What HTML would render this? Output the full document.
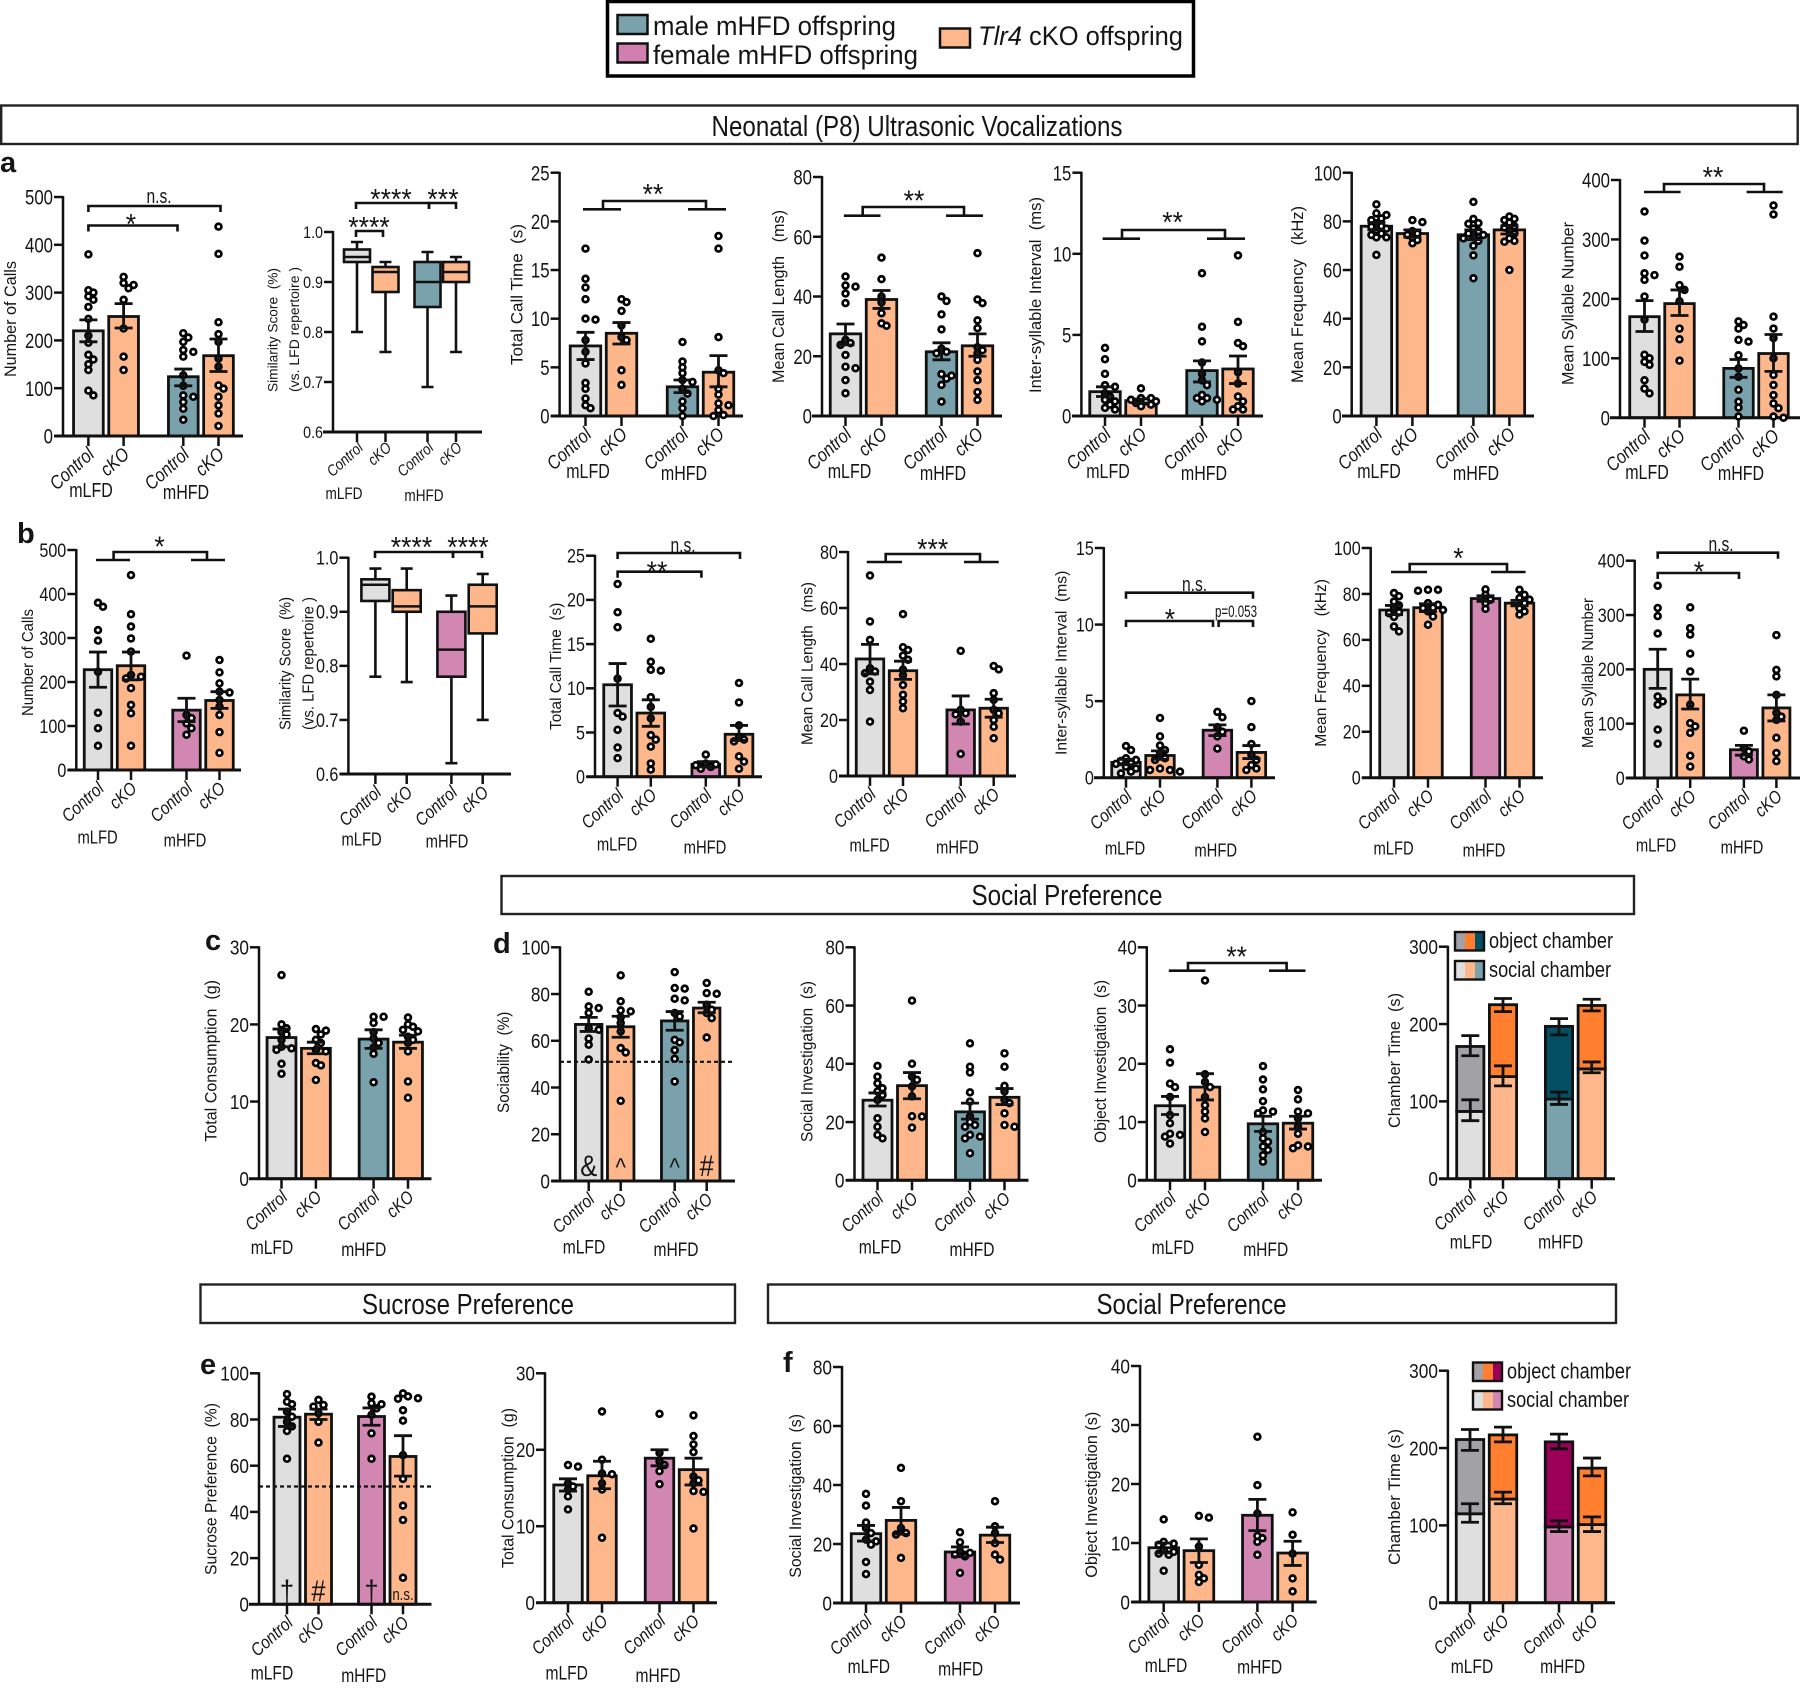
<!DOCTYPE html>
<html lang="en">
<head>
<meta charset="utf-8">
<title>Offspring behaviour panels</title>
<style>
html,body{margin:0;padding:0;background:#fff}
svg{display:block}
text{font-family:"Liberation Sans",sans-serif;fill:#151515;white-space:pre}
</style>
</head>
<body>
<svg xmlns="http://www.w3.org/2000/svg" width="1800" height="1688" viewBox="0 0 1800 1688">
  <rect x="0" y="0" width="1800" height="1688" fill="#fff"/>
  <g>
    <rect x="607.5" y="1.5" width="586" height="74.5" fill="#fff" stroke="#000" stroke-width="3.5"/>
    <rect x="617.5" y="15" width="30" height="19" fill="#7aa2ac" stroke="#111" stroke-width="2.5"/>
    <text x="653" y="35" font-size="27" textLength="243" lengthAdjust="spacingAndGlyphs">male mHFD offspring</text>
    <rect x="617.5" y="43.5" width="30" height="19" fill="#d17fae" stroke="#111" stroke-width="2.5"/>
    <text x="653" y="64" font-size="27" textLength="265" lengthAdjust="spacingAndGlyphs">female mHFD offspring</text>
    <rect x="940" y="28.5" width="30" height="19" fill="#fdb78a" stroke="#111" stroke-width="2.5"/>
    <text x="978" y="45" font-size="27" textLength="205" lengthAdjust="spacingAndGlyphs"><tspan font-style="italic">Tlr4</tspan> cKO offspring</text>
  </g>
  <g>
    <rect x="1.2" y="105.5" width="1796.5" height="38.5" fill="#fff" stroke="#222" stroke-width="2.4"/>
    <text x="917" y="136" font-size="29" text-anchor="middle" textLength="411" lengthAdjust="spacingAndGlyphs">Neonatal (P8) Ultrasonic Vocalizations</text>
  </g>
  <g>
    <rect x="501.5" y="876" width="1132.5" height="38" fill="#fff" stroke="#222" stroke-width="2.4"/>
    <text x="1067" y="905" font-size="29" text-anchor="middle" textLength="191" lengthAdjust="spacingAndGlyphs">Social Preference</text>
  </g>
  <g>
    <rect x="200.5" y="1284.5" width="534.5" height="38.5" fill="#fff" stroke="#222" stroke-width="2.4"/>
    <text x="468" y="1314" font-size="29" text-anchor="middle" textLength="212" lengthAdjust="spacingAndGlyphs">Sucrose Preference</text>
  </g>
  <g>
    <rect x="768" y="1284.5" width="848" height="38.5" fill="#fff" stroke="#222" stroke-width="2.4"/>
    <text x="1191.5" y="1314" font-size="29" text-anchor="middle" textLength="190" lengthAdjust="spacingAndGlyphs">Social Preference</text>
  </g>
  <g>
    <text x="0" y="172" font-size="29" font-weight="bold">a</text>
    <text x="17" y="543" font-size="29" font-weight="bold">b</text>
    <text x="205" y="950" font-size="29" font-weight="bold">c</text>
    <text x="493" y="953" font-size="29" font-weight="bold">d</text>
    <text x="200" y="1374" font-size="29" font-weight="bold">e</text>
    <text x="783" y="1372" font-size="29" font-weight="bold">f</text>
  </g>
  <g>
    <rect x="1455" y="932" width="10" height="18.5" fill="#a2a2a6"/>
    <rect x="1465" y="932" width="10" height="18.5" fill="#ff7f2f"/>
    <rect x="1475" y="932" width="9" height="18.5" fill="#044f63"/>
    <rect x="1455" y="932" width="29" height="18.5" fill="none" stroke="#111" stroke-width="2.4"/>
    <text x="1489" y="948" font-size="22" textLength="124" lengthAdjust="spacingAndGlyphs">object chamber</text>
    <rect x="1455" y="961" width="10" height="18.5" fill="#dfdfdf"/>
    <rect x="1465" y="961" width="10" height="18.5" fill="#fdb78a"/>
    <rect x="1475" y="961" width="9" height="18.5" fill="#7aa2ac"/>
    <rect x="1455" y="961" width="29" height="18.5" fill="none" stroke="#111" stroke-width="2.4"/>
    <text x="1489" y="977" font-size="22" textLength="122" lengthAdjust="spacingAndGlyphs">social chamber</text>
  </g>
  <g>
    <rect x="1473" y="1362.5" width="10" height="18.5" fill="#a2a2a6"/>
    <rect x="1483" y="1362.5" width="10" height="18.5" fill="#ff7f2f"/>
    <rect x="1493" y="1362.5" width="9" height="18.5" fill="#9a0057"/>
    <rect x="1473" y="1362.5" width="29" height="18.5" fill="none" stroke="#111" stroke-width="2.4"/>
    <text x="1507" y="1378.5" font-size="22" textLength="124" lengthAdjust="spacingAndGlyphs">object chamber</text>
    <rect x="1473" y="1391" width="10" height="18.5" fill="#dfdfdf"/>
    <rect x="1483" y="1391" width="10" height="18.5" fill="#fdb78a"/>
    <rect x="1493" y="1391" width="9" height="18.5" fill="#d287b3"/>
    <rect x="1473" y="1391" width="29" height="18.5" fill="none" stroke="#111" stroke-width="2.4"/>
    <text x="1507" y="1407" font-size="22" textLength="122" lengthAdjust="spacingAndGlyphs">social chamber</text>
  </g>
  <g id="charts"></g>
</svg>
<script>
/* ---------- shared categories ---------- */
const categories = ['Control','cKO','Control','cKO'];
const groups = ['mLFD','mHFD'];

/* ---------- panel a ---------- */
const a1Ticks = [0,100,200,300,400,500];
const a1Means = [220,250,124,168];
const a1ErrLow = [197,226,105,135];
const a1ErrHigh = [243,277,140,203];
const a1Points = [[380,305,300,292,285,270,245,210,195,170,160,150,138,95,85],[333,320,316,309,285,225,166,138],[215,206,197,180,176,166,127,105,85,82,71,57,34],[438,381,238,213,197,162,145,106,99,82,64,47,21]];

const a2Ticks = [0.6,0.7,0.8,0.9,1.0];
const a2WhiskerLow = [0.80,0.76,0.69,0.76];
const a2Q1 = [0.94,0.88,0.85,0.90];
const a2Median = [0.95,0.92,0.90,0.92];
const a2Q3 = [0.965,0.93,0.94,0.94];
const a2WhiskerHigh = [0.98,0.94,0.96,0.95];

const a3Ticks = [0,5,10,15,20,25];
const a3Means = [7.2,8.5,3.0,4.5];
const a3ErrLow = [5.8,7.4,2.4,3.0];
const a3ErrHigh = [8.6,9.6,3.7,6.2];
const a3Points = [[17.2,14.1,13.2,12,10,9.9,7.8,6.6,5.4,3.4,2.8,1.8,1.1,0.8],[12,11.7,10.8,9.3,8.1,7.8,4.7,3.2],[7.6,5.6,5,4.4,3.7,3.5,2.8,2.3,1.5,0.8,0],[18.5,17.2,8.1,4.7,4.4,2.8,2.2,1.3,1.1,0.6,0.1,0]];

const a4Ticks = [0,20,40,60,80];
const a4Means = [27.5,39,21.5,23.5];
const a4ErrLow = [23.8,36,18.8,20];
const a4ErrHigh = [30.8,42,24.5,27.5];
const a4Points = [[46.7,43.7,43.3,41,37.8,25.5,24.4,23.8,20.4,16.5,16,12,7.6],[53,45.8,40,38,34.4,31,30.2],[40,38.5,34,29,22.5,21.5,21,14,13.5,12.5,10.4,4.8],[54.5,39,37.8,32,29.4,23,22,21,18.8,14.9,12,8,5.4]];

const a5Ticks = [0,5,10,15];
const a5Means = [1.5,0.95,2.8,2.9];
const a5ErrLow = [1.2,0.8,2.1,2.0];
const a5ErrHigh = [1.8,1.05,3.4,3.7];
const a5Points = [[4.2,3.5,2.6,1.9,1.8,1.4,1.2,1,0.9,0.7,0.5,0.4],[1.7,1.1,1.1,1,0.9,0.9,0.8,0.7,0.6],[8.8,5.5,4.6,3.3,2.6,2.2,1.9,1.3,1.1,1.1,1,0.9],[9.9,5.8,4.5,4.3,2.7,2,1.2,0.9,0.6,0.4,0.4]];

const a6Ticks = [0,20,40,60,80,100];
const a6Means = [78,75,74.5,76.5];
const a6ErrLow = [76.5,73.5,72.5,74.8];
const a6ErrHigh = [79.5,76.5,76.5,78.2];
const a6Points = [[87,83.3,82.6,81.2,80.5,79.2,78,77.8,77,76.4,75,74.4,73.4,73.4,66.2],[80.5,79.7,76,75,74.4,73.4,72.3,71],[88,81,79.3,79,77,76,75,74.4,73.5,73,72,70,66,56.6],[82,81,80.5,79.5,78,77.5,76.4,75,73,72,71.6,60]];

const a7Ticks = [0,100,200,300,400];
const a7Means = [170,192,83,108];
const a7ErrLow = [145,172,68,78];
const a7ErrHigh = [197,215,98,140];
const a7Points = [[347,298,273,243,240,232,204,165,106,100,94,89,63,49,41],[271,254,223,215,196,150,132,96],[162,156,150,131,128,105,83,69,47,27,17,2],[357,342,170,150,134,100,72,55,38,24,16,2,0]];

/* ---------- panel b ---------- */
const b1Ticks = [0,100,200,300,400,500];
const b1Means = [228,237,136,158];
const b1ErrLow = [188,205,110,140];
const b1ErrHigh = [268,268,163,178];
const b1Points = [[380,371,318,294,223,130,95,55],[443,354,326,299,269,216,212,208,186,148,129,55],[260,125,118,106,95,80],[250,222,197,178,176,159,144,125,86,39]];

const b2Ticks = [0.6,0.7,0.8,0.9,1.0];
const b2WhiskerLow = [0.78,0.77,0.62,0.70];
const b2Q1 = [0.92,0.90,0.78,0.86];
const b2Median = [0.95,0.91,0.83,0.91];
const b2Q3 = [0.96,0.94,0.90,0.95];
const b2WhiskerHigh = [0.98,0.98,0.93,0.97];

const b3Ticks = [0,5,10,15,20,25];
const b3Means = [10.4,7.2,1.4,4.8];
const b3ErrLow = [8,5.7,1.1,4.1];
const b3ErrHigh = [12.8,8.7,1.7,5.8];
const b3Points = [[21.8,18.6,16.9,11.1,7.2,6.8,5.3,3.3,2.1],[15.6,13,12.1,12,9,7.9,6.6,4.7,4.2,3.4,1.5,0.8],[2.5,1.5,1.4,1.3,1.1,0.9],[10.6,8.4,5.8,4.5,4.2,4,2.3,1.7,0.9]];

const b4Ticks = [0,20,40,60,80];
const b4Means = [41.8,37.6,23.6,24.2];
const b4ErrLow = [36.5,34.5,18.6,21];
const b4ErrHigh = [47,41,28.6,27.4];
const b4Points = [[71.6,55.2,48.6,38.5,37.3,36.7,33.7,30.7,19.4],[57.8,46,45,43,41.5,38,36,32.5,29,26.6,24.2],[44.7,23.6,22.4,22,19.4,7.9],[39.3,38.1,29.6,27.2,23.6,22.4,20,17.6,13.5]];

const b5Ticks = [0,5,10,15];
const b5Means = [1,1.45,3.1,1.65];
const b5ErrLow = [0.85,1.2,2.75,1.25];
const b5ErrHigh = [1.2,1.75,3.45,2.1];
const b5Points = [[2.07,1.8,1.27,1.16,1.1,0.94,0.9,0.72,0.6,0.4,0.28],[3.9,2.7,2.1,1.8,1.6,1.27,1.16,0.6,0.5,0.5,0.4],[4.3,3.95,3.3,3,2.7,1.9],[5,3.3,2.2,1.5,1.16,0.83,0.6,0.5]];

const b6Ticks = [0,20,40,60,80,100];
const b6Means = [73,74,78,76];
const b6ErrLow = [71,72.3,76.8,74.8];
const b6ErrHigh = [75,75.7,79.2,77.2];
const b6Points = [[80.4,79,76.7,75,73.8,72,71.6,70,65.8,63.7],[81.8,81.8,81.4,76,75.3,74,73.8,73,72.4,70.2,66.6],[82,79.6,77.5,76,73.5],[81.8,79.6,78.2,77.5,76,73.8,72.4,71]];

const b7Ticks = [0,100,200,300,400];
const b7Means = [200,153,52,129];
const b7ErrLow = [165,127,42,105];
const b7ErrHigh = [237,182,60,153];
const b7Points = [[354,313,298,266,150,141,135,89,63],[314,276,264,229,196,135,101,95,83,41,21],[87,55,49,40,34],[263,199,187,153,120,113,107,74,46,31]];

/* ---------- panel c ---------- */
const c1Ticks = [0,10,20,30];
const c1Means = [18.3,16.9,18.1,17.7];
const c1ErrLow = [17.1,16.2,16.9,16.9];
const c1ErrHigh = [19.4,17.7,19.3,18.6];
const c1Points = [[26.4,20,19.5,19,18.7,18,17.1,16.9,16.7,14.9,13.6],[19.4,19.2,18.7,18,17.6,16.7,16.5,15,14.7,12.8],[21,21,20.2,19,18.2,17.6,17,16.2,12.5],[20.9,20,19.7,19.3,19.1,18.4,18,17.6,16.5,12.6,10.5]];

/* ---------- panel d ---------- */
const d1Ticks = [0,20,40,60,80,100];
const d1Means = [67,66,68.5,74];
const d1ErrLow = [64,61.5,64.5,72];
const d1ErrHigh = [70,70.5,72.5,76.5];
const d1Points = [[81,74.7,74,71.9,65.4,64.7,61,58.3,52],[88,76.9,73,72.6,70,67.6,64,56.9,55,34.3],[89.4,82.6,82.3,78,77.3,71.9,70.4,60.4,59.3,56,52.3,42.6],[84.7,80.4,80.1,75.4,73.3,71.9,69.7,61.4]];
const d1Marks = ['&','^','^','#'];
const d1Chance = [51];

const d2Ticks = [0,20,40,60,80];
const d2Means = [27.5,32.5,23.5,28.5];
const d2ErrLow = [25.5,28,21,26];
const d2ErrHigh = [30,37,26.5,31.5];
const d2Points = [[39.3,35.6,33.3,31.6,30.5,29.3,27.6,21.3,18.4,15.6,14.4],[61.7,40,35.6,34.5,32.2,28.8,22,21.9,18.1],[47,39,37,30.2,27,21.9,20,19,18.4,15.6,15,14.4,9.3],[43.6,39,32.4,30.5,27.6,26.5,23,19,18.4]];

const d3Ticks = [0,10,20,30,40];
const d3Means = [12.8,16,9.7,9.8];
const d3ErrLow = [11.3,13.8,8.4,8.8];
const d3ErrHigh = [14.4,18.3,11,11];
const d3Points = [[22.5,20.2,16.6,16,14.3,11.2,9.8,8,7.8,7.5,6.3],[34.3,18.2,16.9,16,14.3,12.9,11.8,10.6,8.3],[19.6,17.3,15.6,13.6,12,11.8,11.5,8.3,7.2,6.6,5.8,5.2,4.3,3.2],[15.5,13.9,11.8,11.5,10.6,9.2,8,6,5.8,5.5]];

const d4Ticks = [0,100,200,300];
const d4Social = [87,132,103,142];
const d4Total = [171,225,197,224];
const d4SocialErrLow = [75,120,96,137];
const d4SocialErrHigh = [102,146,112,151];
const d4TotalErrLow = [159,216,186,217];
const d4TotalErrHigh = [185,233,207,232];

/* ---------- panel e ---------- */
const e1Ticks = [0,20,40,60,80,100];
const e1Means = [81,82.3,81.3,64];
const e1ErrLow = [77,80,77.5,55.5];
const e1ErrHigh = [84.5,84.5,85,73];
const e1Points = [[91,87.7,86.6,83.4,81.2,79,77,75,63],[88.5,86.3,85.6,82.7,79,70],[89.9,87,86.6,84.8,82,74,63],[91.3,90,89,89.2,84,79.5,64.6,54.3,42.7,36.5,11.5]];
const e1Marks = ['†','#','†','n.s.'];
const e1Chance = [51];

const e2Ticks = [0,10,20,30];
const e2Means = [15.4,16.6,18.9,17.4];
const e2ErrLow = [14.6,14.9,17.9,15.4];
const e2ErrHigh = [16.2,18.5,20,18.9];
const e2Points = [[18,17.8,15.6,15.2,14.8,13.9,12.2],[25,18.7,16.9,16.8,15.6,14.8,8.5],[24.7,19.6,18.5,18,17.2,15.5],[24.5,21.8,20.7,19.7,16.5,16,15.6,14.6,14.5,9.7]];

/* ---------- panel f ---------- */
const f1Ticks = [0,20,40,60,80];
const f1Means = [23.5,28,17.3,23];
const f1ErrLow = [21,23.3,15.7,20.5];
const f1ErrHigh = [26.3,32.4,19,25.7];
const f1Points = [[37,33,27.3,25.4,23.7,21.5,20.9,19.8,13.9,9.8],[45.8,34.5,25.4,23.7,23.2,15.3],[24,20.6,17.5,17,16.4,15.8,10.2],[34.5,26,23.7,20.3,16.4,14.7]];

const f2Ticks = [0,10,20,30,40];
const f2Means = [9.2,8.7,14.7,8.3];
const f2ErrLow = [8.3,6.7,12.1,6.2];
const f2ErrHigh = [10,10.7,17.4,10.3];
const f2Points = [[14,10.2,9.9,9.7,8.8,8.5,8.2,8,5.3],[14.6,14.3,9.4,6.3,4.6,4,3.4],[28,19.8,15,11.2,10.8,10.2,8],[15.2,11.4,8.2,4,1.8]];

const f3Ticks = [0,100,200,300];
const f3Social = [115,134,98,101];
const f3Total = [211,217,208,174];
const f3SocialErrLow = [104,128,92,92];
const f3SocialErrHigh = [128,143,106,111];
const f3TotalErrLow = [197,208,199,164];
const f3TotalErrHigh = [224,227,218,187];

/* ---------- styles ---------- */
const maleFills = ['#dfdfdf','#fdb78a','#7aa2ac','#fdb78a'];
const femaleFills = ['#dfdfdf','#fdb78a','#d287b3','#fdb78a'];
const maleDark = ['#a2a2a6','#ff7f2f','#044f63','#ff7f2f'];
const femaleDark = ['#a2a2a6','#ff7f2f','#9a0057','#ff7f2f'];

/* ---------- drawing helpers ---------- */
const NS = 'http://www.w3.org/2000/svg';
const chartsRoot = document.getElementById('charts');
const INK = '#111';

function mk(tag, attrs, parent) {
  const n = document.createElementNS(NS, tag);
  for (const k in attrs) n.setAttribute(k, attrs[k]);
  parent.appendChild(n);
  return n;
}
function yScale(lay, ticks) {
  const lo = ticks[0], hi = ticks[ticks.length - 1];
  return v => lay.y0 - (v - lo) / (hi - lo) * (lay.y0 - lay.yt);
}
function xScale(lay) {
  return i => lay.c0 + i * lay.step + (i >= 2 ? lay.mid - lay.step : 0);
}
function label(parent, str, x, y, fs, sx, anchor, extra) {
  const t = mk('text', Object.assign({
    transform: 'translate(' + x + ',' + y + ') scale(' + sx + ',1)',
    'font-size': fs, 'text-anchor': anchor
  }, extra || {}), parent);
  t.textContent = str;
  return t;
}
function frame(g, lay, ticks, digits) {
  const y = yScale(lay, ticks), x = xScale(lay);
  const tf = lay.tickFs || 21, tsx = lay.tickSx || 0.8;
  const cf = lay.catFs || 19, csx = lay.catSx || 0.85;
  const gf = lay.groupFs || 20, gsx = lay.groupSx || 0.8;

  const yAxis = mk('line', {x1: lay.ax, x2: lay.ax, y1: lay.yt - 1, y2: lay.y0, stroke: INK, 'stroke-width': 2.5}, g);
  
  

  ticks.forEach(v => {
    const tick = mk('line', {x1: lay.ax - 9, x2: lay.ax, y1: y(v), y2: y(v), stroke: INK, 'stroke-width': 2.5}, g);
    
    
    const tl = label(g, v.toFixed(digits), lay.ax - 10, y(v) + tf * 0.36, tf, tsx, 'end');
    
    
  });

  lay.titles.forEach(tt => {
    const fs = tt.fs || 17;
    const title = mk('text', {
      transform: 'translate(' + (tt.x + fs * 0.36) + ',' + ((tt.y1 + tt.y2) / 2) + ') rotate(-90)',
      'font-size': fs, 'text-anchor': 'middle',
      textLength: tt.y2 - tt.y1, lengthAdjust: 'spacingAndGlyphs'
    }, g);
    title.textContent = tt.text;
    
    
  });

  categories.forEach((c, i) => {
    const tick = mk('line', {x1: x(i), x2: x(i), y1: lay.y0, y2: lay.y0 + 10, stroke: INK, 'stroke-width': 2.5}, g);
    
    
    const t = mk('text', {
      transform: 'translate(' + (x(i) + 7) + ',' + (lay.y0 + (lay.catDy || 20)) + ') rotate(-42) scale(' + csx + ',1)',
      'font-size': cf, 'font-style': 'italic', 'text-anchor': 'end'
    }, g);
    t.textContent = c;
    
    
  });

  groups.forEach((gr, i) => {
    const t = label(g, gr, lay.gx[i], lay.gy[i] + gf * 0.36, gf, gsx, 'middle');
    
    
  });
}
function xAxisLine(g, lay) {
  const xAxis = mk('line', {x1: lay.xL, x2: lay.xR, y1: lay.y0, y2: lay.y0, stroke: INK, 'stroke-width': 3}, g);
  
  
}
function errorBar(g, xc, yLo, yHi) {
  const p = mk('path', {
    d: 'M' + xc + ' ' + yLo + 'V' + yHi + 'M' + (xc - 9) + ' ' + yLo + 'H' + (xc + 9) + 'M' + (xc - 9) + ' ' + yHi + 'H' + (xc + 9),
    stroke: INK, 'stroke-width': 2.8, fill: 'none'
  }, g);
  
  
}
function swarmOffsets(pixelYs) {
  const placed = [], out = [];
  const steps = [0, 5, -5, 10, -10, 15, -15, 20, -20];
  pixelYs.forEach(py => {
    let chosen = 0;
    for (const dx of steps) {
      if (placed.every(q => Math.hypot(q.dx - dx, q.py - py) >= 5.5)) { chosen = dx; break; }
    }
    placed.push({dx: chosen, py: py});
    out.push(chosen);
  });
  return out;
}
function barPanel(name, lay, ticks, means, errLow, errHigh, points, fills, opts) {
  const g = mk('g', {}, chartsRoot);
  
  
  const y = yScale(lay, ticks), x = xScale(lay);
  const w = lay.step - 5.5;
  means.forEach((m, i) => {
    const bar = mk('rect', {x: x(i) - w / 2, y: y(m), width: w, height: lay.y0 - y(m), fill: fills[i], stroke: INK, 'stroke-width': 2.8}, g);
    
    
  });
  frame(g, lay, ticks, 0);
  xAxisLine(g, lay);
  means.forEach((m, i) => {
    const pys = points[i].map(y);
    const off = swarmOffsets(pys);
    pys.forEach((py, k) => {
      const dot = mk('circle', {cx: x(i) + off[k], cy: py, r: 2.9, fill: '#fff', stroke: '#000', 'stroke-width': 2.7}, g);
      
      
    });
    errorBar(g, x(i), y(errLow[i]), y(errHigh[i]));
  });
  if (opts && opts.chance) {
    opts.chance.forEach(v => {
      const line = mk('line', {x1: lay.ax, x2: opts.chanceEnd, y1: y(v), y2: y(v), stroke: INK, 'stroke-width': 2.2, 'stroke-dasharray': '4 3'}, g);
      
      
    });
  }
  if (opts && opts.marks) {
    opts.marks.forEach((s, i) => {
      const fs = s === 'n.s.' ? 17 : (s === '^' ? 26 : 30);
      const t = label(g, s, x(i), opts.markY + (s === 'n.s.' ? 0 : 1), fs, s === 'n.s.' ? 0.78 : 0.85, 'middle');
      
      
    });
  }
  return g;
}
function boxPanel(name, lay, ticks, low, q1, med, q3, high, fills) {
  const g = mk('g', {}, chartsRoot);
  
  
  const y = yScale(lay, ticks), x = xScale(lay);
  const w = lay.boxW;
  frame(g, lay, ticks, 1);
  xAxisLine(g, lay);
  low.forEach((_, i) => {
    const whisker = mk('path', {
      d: 'M' + x(i) + ' ' + y(low[i]) + 'V' + y(high[i]) + 'M' + (x(i) - 6) + ' ' + y(low[i]) + 'H' + (x(i) + 6) + 'M' + (x(i) - 6) + ' ' + y(high[i]) + 'H' + (x(i) + 6),
      stroke: INK, 'stroke-width': 2.6, fill: 'none'
    }, g);
    
    
    const box = mk('rect', {x: x(i) - w / 2, y: y(q3[i]), width: w, height: y(q1[i]) - y(q3[i]), fill: fills[i], stroke: INK, 'stroke-width': 2.6}, g);
    
    
    const median = mk('line', {x1: x(i) - w / 2, x2: x(i) + w / 2, y1: y(med[i]), y2: y(med[i]), stroke: INK, 'stroke-width': 2.6}, g);
    
    
  });
  return g;
}
function stackPanel(name, lay, ticks, social, total, sLow, sHigh, tLow, tHigh, lightFills, darkFills) {
  const g = mk('g', {}, chartsRoot);
  
  
  const y = yScale(lay, ticks), x = xScale(lay);
  const w = lay.step - 5.5;
  social.forEach((s, i) => {
    const lower = mk('rect', {x: x(i) - w / 2, y: y(s), width: w, height: lay.y0 - y(s), fill: lightFills[i], stroke: INK, 'stroke-width': 2.8}, g);
    
    
    const upper = mk('rect', {x: x(i) - w / 2, y: y(total[i]), width: w, height: y(s) - y(total[i]), fill: darkFills[i], stroke: INK, 'stroke-width': 2.8}, g);
    
    
  });
  frame(g, lay, ticks, 0);
  xAxisLine(g, lay);
  social.forEach((s, i) => {
    errorBar(g, x(i), y(sLow[i]), y(sHigh[i]));
    errorBar(g, x(i), y(tLow[i]), y(tHigh[i]));
  });
  return g;
}
function spanBracket(g, x1, x2, yy, text, tx, ty) {
  const p = mk('path', {d: 'M' + x1 + ' ' + (yy + 6) + 'V' + yy + 'H' + x2 + 'V' + (yy + 6), stroke: INK, 'stroke-width': 2.6, fill: 'none'}, g);
  
  
  sigText(g, text, tx, ty);
}
function teeBracket(g, lx1, lx2, rx1, rx2, yLow, tx1, tx2, yTop, text, tx, ty) {
  const p = mk('path', {
    d: 'M' + lx1 + ' ' + yLow + 'H' + lx2 + 'M' + rx1 + ' ' + yLow + 'H' + rx2 + 'M' + tx1 + ' ' + yLow + 'V' + yTop + 'H' + tx2 + 'V' + yLow,
    stroke: INK, 'stroke-width': 2.6, fill: 'none'
  }, g);
  
  
  sigText(g, text, tx, ty);
}
function sigText(g, text, x, cy) {
  let t;
  if (text.charAt(0) === '*') t = label(g, text, x, cy + 15, 29, 0.92, 'middle');
  else if (text === 'n.s.') t = label(g, text, x, cy + 6, 20, 0.78, 'middle');
  else t = label(g, text, x, cy + 5, 17, 0.68, 'middle');
  
  
}

/* ---------- render: panel a ---------- */
let gp;
gp = barPanel('panel-a-number-of-calls', {ax:63,y0:436,yt:197,xL:54.5,xR:243,c0:88.4,step:35.2,mid:59.7,gx:[91,186],gy:[490,492],
  titles:[{text:'Number of Calls',x:10,y1:261,y2:377}]}, a1Ticks, a1Means, a1ErrLow, a1ErrHigh, a1Points, maleFills);
spanBracket(gp, 88.4, 220.5, 206, 'n.s.', 159, 197);
spanBracket(gp, 88.4, 177.5, 225.5, '*', 131, 219);

gp = boxPanel('panel-a-similarity-score', {ax:333,y0:432,yt:232,xL:323,xR:482,c0:357,step:28.5,mid:42,boxW:26,gx:[344,424],gy:[493,495],tickFs:17,tickSx:0.84,catFs:15.5,groupFs:17,groupSx:0.8,catDy:17,
  titles:[{text:'Similarity Score  (%)',x:272.6,y1:268,y2:392,fs:14},{text:'(vs. LFD repertoire )',x:294,y1:267,y2:392,fs:14}]}, a2Ticks, a2WhiskerLow, a2Q1, a2Median, a2Q3, a2WhiskerHigh, maleFills);
spanBracket(gp, 356, 383, 231, '****', 369, 222);
spanBracket(gp, 356, 429, 203, '****', 391, 194);
spanBracket(gp, 429, 456, 203, '***', 443, 194);

gp = barPanel('panel-a-total-call-time', {ax:559.6,y0:416,yt:172.7,xL:551,xR:743,c0:585.5,step:36,mid:61,gx:[588,684],gy:[470.7,473],
  titles:[{text:'Total Call Time  (s)',x:516.6,y1:224,y2:365}]}, a3Ticks, a3Means, a3ErrLow, a3ErrHigh, a3Points, maleFills);
teeBracket(gp, 583, 621, 688, 726, 209.3, 603, 706, 201, '**', 653, 189);

gp = barPanel('panel-a-mean-call-length', {ax:822,y0:416,yt:177,xL:812,xR:1002,c0:845.5,step:36,mid:60,gx:[849.5,943],gy:[471,473],
  titles:[{text:'Mean Call Length   (ms)',x:778,y1:210,y2:383}]}, a4Ticks, a4Means, a4ErrLow, a4ErrHigh, a4Points, maleFills);
teeBracket(gp, 843.8, 880.5, 946, 983, 215.7, 862.7, 964, 207, '**', 914, 195.7);

gp = barPanel('panel-a-inter-syllable-interval', {ax:1081.4,y0:416,yt:172.7,xL:1072,xR:1263,c0:1105,step:36,mid:61,gx:[1108,1204],gy:[471,473],
  titles:[{text:'Inter-syllable Interval  (ms)',x:1035,y1:197,y2:393}]}, a5Ticks, a5Means, a5ErrLow, a5ErrHigh, a5Points, maleFills);
teeBracket(gp, 1102.6, 1140, 1207, 1245, 238.7, 1122, 1225, 230, '**', 1172.6, 217);

gp = barPanel('panel-a-mean-frequency', {ax:1351.7,y0:416,yt:172.7,xL:1342,xR:1534,c0:1376.4,step:36,mid:61,gx:[1379,1476],gy:[471,473],
  titles:[{text:'Mean Frequency   (kHz)',x:1297,y1:206,y2:383}]}, a6Ticks, a6Means, a6ErrLow, a6ErrHigh, a6Points, maleFills);

gp = barPanel('panel-a-mean-syllable-number', {ax:1620,y0:417.7,yt:180,xL:1610,xR:1800,c0:1644.5,step:35,mid:59,gx:[1647,1741],gy:[471.7,473],
  titles:[{text:'Mean Syllable Number',x:1567.6,y1:222,y2:385}]}, a7Ticks, a7Means, a7ErrLow, a7ErrHigh, a7Points, maleFills);
teeBracket(gp, 1644, 1680.6, 1746.6, 1782.8, 192, 1664, 1764, 184, '**', 1713, 172);

/* ---------- render: panel b ---------- */
const bRow = {tickFs:19,tickSx:0.85,catFs:18,groupFs:18.5,groupSx:0.8};
gp = barPanel('panel-b-number-of-calls', Object.assign({ax:76.3,y0:770,yt:550,xL:68,xR:241,c0:98,step:33,mid:55.5,gx:[97.6,185],gy:[837,840],
  titles:[{text:'Number of Calls',x:27,y1:609,y2:716,fs:16}]}, bRow), b1Ticks, b1Means, b1ErrLow, b1ErrHigh, b1Points, femaleFills);
teeBracket(gp, 96, 130, 191, 225, 560, 113.6, 207, 552, '*', 159.6, 541.7);

gp = boxPanel('panel-b-similarity-score', Object.assign({ax:348.4,y0:774,yt:557.7,xL:340,xR:511,c0:375.4,step:31.3,mid:44.7,boxW:28,gx:[361.6,447],gy:[839,841],
  titles:[{text:'Similarity Score  (%)',x:285,y1:597,y2:730,fs:15.5},{text:'(vs. LFD repertoire )',x:308,y1:597,y2:730,fs:15.5}]}, bRow), b2Ticks, b2WhiskerLow, b2Q1, b2Median, b2Q3, b2WhiskerHigh, femaleFills);
spanBracket(gp, 375, 453, 552, '****', 411.5, 542);
spanBracket(gp, 453, 482, 552, '****', 468, 542);

gp = barPanel('panel-b-total-call-time', Object.assign({ax:595,y0:776.7,yt:555.7,xL:587,xR:762,c0:617.6,step:33.2,mid:55,gx:[617,705],gy:[844,846.7],
  titles:[{text:'Total Call Time  (s)',x:555,y1:602.7,y2:730,fs:16}]}, bRow), b3Ticks, b3Means, b3ErrLow, b3ErrHigh, b3Points, femaleFills);
spanBracket(gp, 617.6, 740, 553, 'n.s.', 683, 546);
spanBracket(gp, 617.6, 701.4, 571.7, '**', 657, 566.7);

gp = barPanel('panel-b-mean-call-length', Object.assign({ax:848,y0:776,yt:552,xL:839,xR:1016,c0:870,step:33,mid:57.7,gx:[869.6,957.4],gy:[845,846.7],
  titles:[{text:'Mean Call Length   (ms)',x:806.5,y1:582,y2:745,fs:16}]}, bRow), b4Ticks, b4Means, b4ErrLow, b4ErrHigh, b4Points, femaleFills);
teeBracket(gp, 866.7, 902, 964, 998.7, 562, 885.7, 980, 554, '***', 932.7, 544);

gp = barPanel('panel-b-inter-syllable-interval', Object.assign({ax:1103.8,y0:777.7,yt:548,xL:1094,xR:1275,c0:1126,step:34,mid:57.4,gx:[1125,1215.7],gy:[847.7,850],
  titles:[{text:'Inter-syllable Interval  (ms)',x:1060.7,y1:570.7,y2:755,fs:16}]}, bRow), b5Ticks, b5Means, b5ErrLow, b5ErrHigh, b5Points, femaleFills);
spanBracket(gp, 1126, 1253, 592.7, 'n.s.', 1194.5, 585);
spanBracket(gp, 1126, 1213, 621, '*', 1170, 614);
spanBracket(gp, 1218.6, 1253, 621, 'p=0.053', 1236, 612);

gp = barPanel('panel-b-mean-frequency', Object.assign({ax:1370.7,y0:777.7,yt:548,xL:1362,xR:1543,c0:1394,step:34,mid:57.5,gx:[1393.6,1484],gy:[847.7,850],
  titles:[{text:'Mean Frequency   (kHz)',x:1320,y1:579,y2:746.7,fs:16}]}, bRow), b6Ticks, b6Means, b6ErrLow, b6ErrHigh, b6Points, femaleFills);
teeBracket(gp, 1391, 1427, 1491, 1525.6, 572, 1409.7, 1507, 564, '*', 1458.5, 553);

gp = barPanel('panel-b-mean-syllable-number', Object.assign({ax:1634.7,y0:778,yt:560.7,xL:1626,xR:1800,c0:1657.7,step:32.5,mid:53.7,gx:[1656,1742],gy:[845,846.7],
  titles:[{text:'Mean Syllable Number',x:1587,y1:598,y2:748,fs:16}]}, bRow), b7Ticks, b7Means, b7ErrLow, b7ErrHigh, b7Points, femaleFills);
spanBracket(gp, 1657.7, 1778, 552.7, 'n.s.', 1721, 545);
spanBracket(gp, 1657.7, 1739, 573, '*', 1699, 566.7);

/* ---------- render: panels c, d ---------- */
const lowRow = {tickFs:20.5,tickSx:0.84,catFs:18,groupFs:19.5,groupSx:0.8};
barPanel('panel-c-total-consumption', Object.assign({ax:259,y0:1178.7,yt:947.3,xL:249,xR:431.5,c0:281.5,step:34.4,mid:57.7,gx:[272,363.7],gy:[1247,1249],
  titles:[{text:'Total Consumption  (g)',x:210.6,y1:980,y2:1141.7}]}, lowRow), c1Ticks, c1Means, c1ErrLow, c1ErrHigh, c1Points, maleFills);

barPanel('panel-d-sociability', Object.assign({ax:560,y0:1181,yt:947.3,xL:551.4,xR:735,c0:588.7,step:32,mid:54,gx:[584,676],gy:[1246.7,1249],
  titles:[{text:'Sociability  (%)',x:503,y1:1011.7,y2:1113}]}, lowRow), d1Ticks, d1Means, d1ErrLow, d1ErrHigh, d1Points, maleFills, {chance:d1Chance,chanceEnd:733,marks:d1Marks,markY:1175});

barPanel('panel-d-social-investigation', Object.assign({ax:854.5,y0:1180.3,yt:947.3,xL:846,xR:1028.5,c0:877.5,step:34.5,mid:58,gx:[880,972],gy:[1246.7,1249],
  titles:[{text:'Social Investigation  (s)',x:806.5,y1:981,y2:1142}]}, lowRow), d2Ticks, d2Means, d2ErrLow, d2ErrHigh, d2Points, maleFills);

gp = barPanel('panel-d-object-investigation', Object.assign({ax:1146.8,y0:1180.3,yt:947.3,xL:1138,xR:1322,c0:1170,step:35,mid:58,gx:[1172.9,1265.7],gy:[1247,1249],
  titles:[{text:'Object Investigation  (s)',x:1100,y1:980,y2:1143}]}, lowRow), d3Ticks, d3Means, d3ErrLow, d3ErrHigh, d3Points, maleFills);
teeBracket(gp, 1168.8, 1205.5, 1269, 1305.5, 970.7, 1188, 1286.6, 963, '**', 1236.6, 951.7);

stackPanel('panel-d-chamber-time', Object.assign({ax:1447.9,y0:1178.7,yt:946.7,xL:1439,xR:1615,c0:1470.3,step:32.7,mid:56,gx:[1471,1560.6],gy:[1241.7,1241.7],
  titles:[{text:'Chamber Time  (s)',x:1394,y1:993,y2:1128}]}, lowRow), d4Ticks, d4Social, d4Total, d4SocialErrLow, d4SocialErrHigh, d4TotalErrLow, d4TotalErrHigh, maleFills, maleDark);

/* ---------- render: panels e, f ---------- */
barPanel('panel-e-sucrose-preference', Object.assign({ax:259,y0:1604.3,yt:1373.3,xL:249,xR:431.5,c0:287,step:31.5,mid:53,gx:[272,363.7],gy:[1672.7,1675],
  titles:[{text:'Sucrose Preference  (%)',x:210.6,y1:1403,y2:1575}]}, lowRow), e1Ticks, e1Means, e1ErrLow, e1ErrHigh, e1Points, femaleFills, {chance:e1Chance,chanceEnd:433,marks:e1Marks,markY:1600});

barPanel('panel-e-total-consumption', Object.assign({ax:545,y0:1602.7,yt:1373.3,xL:536,xR:717,c0:568,step:34,mid:57.5,gx:[566.7,658],gy:[1672.7,1675],
  titles:[{text:'Total Consumption  (g)',x:507.5,y1:1408,y2:1568}]}, lowRow), e2Ticks, e2Means, e2ErrLow, e2ErrHigh, e2Points, femaleFills);

barPanel('panel-f-social-investigation', Object.assign({ax:842,y0:1603,yt:1367,xL:833,xR:1020,c0:866,step:35,mid:59,gx:[868.8,960.6],gy:[1666,1668.7],
  titles:[{text:'Social Investigation  (s)',x:795,y1:1414,y2:1577.7}]}, lowRow), f1Ticks, f1Means, f1ErrLow, f1ErrHigh, f1Points, femaleFills);

barPanel('panel-f-object-investigation', Object.assign({ax:1140,y0:1602,yt:1366,xL:1131.5,xR:1316.7,c0:1163.7,step:35.2,mid:58.5,gx:[1166,1259.6],gy:[1665,1666.7],
  titles:[{text:'Object Investigation (s)',x:1091,y1:1411.7,y2:1577.7}]}, lowRow), f2Ticks, f2Means, f2ErrLow, f2ErrHigh, f2Points, femaleFills);

stackPanel('panel-f-chamber-time', Object.assign({ax:1447.9,y0:1602.7,yt:1370.7,xL:1439,xR:1615,c0:1470,step:33,mid:56,gx:[1472,1562.6],gy:[1666,1666],
  titles:[{text:'Chamber Time (s)',x:1394,y1:1429,y2:1565}]}, lowRow), f3Ticks, f3Social, f3Total, f3SocialErrLow, f3SocialErrHigh, f3TotalErrLow, f3TotalErrHigh, femaleFills, femaleDark);
</script>
</body>
</html>
